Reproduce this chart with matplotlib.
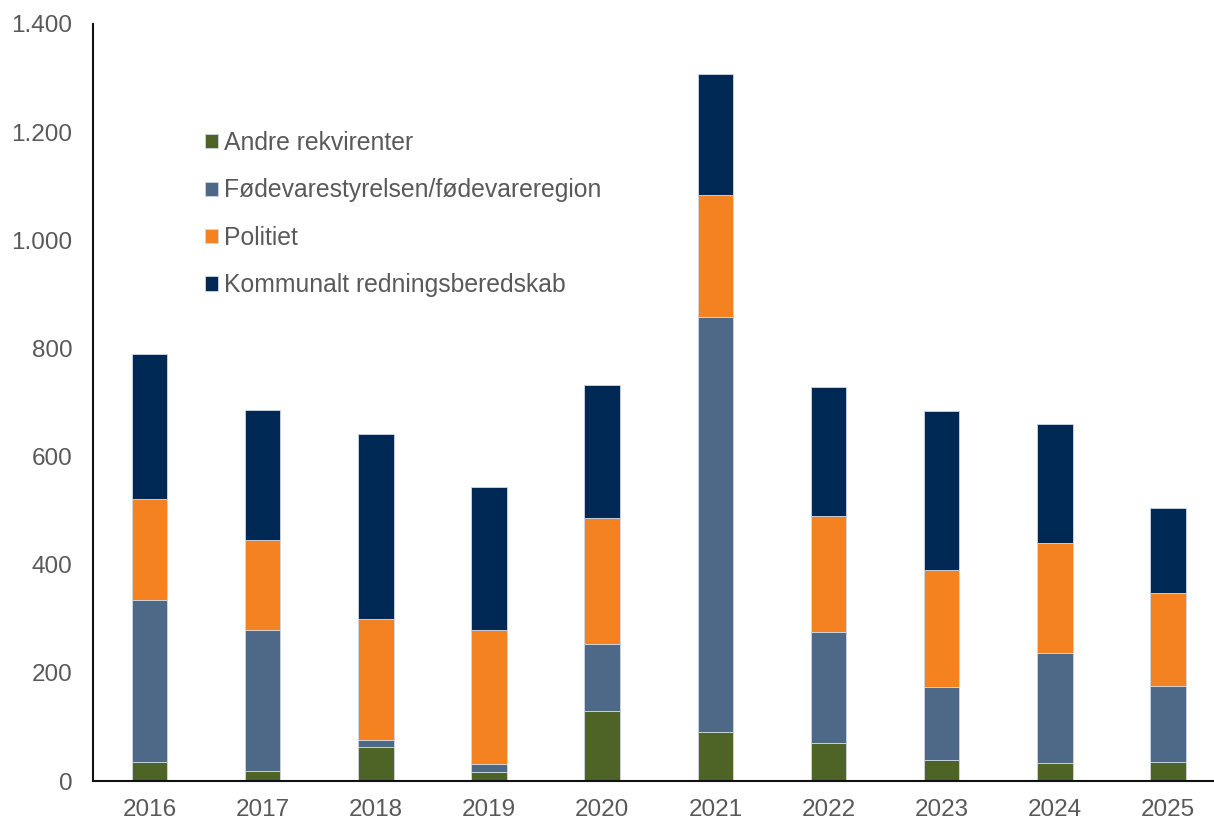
import numpy as np
import matplotlib
matplotlib.use('Agg')
import matplotlib.pyplot as plt
from matplotlib.ticker import FuncFormatter

years = ['2016', '2017', '2018', '2019', '2020', '2021', '2022', '2023', '2024', '2025']
andre = [36, 19, 62, 16, 130, 91, 71, 39, 33, 36]
foedevare = [299, 261, 13, 16, 124, 768, 205, 134, 204, 140]
politiet = [186, 166, 225, 248, 233, 225, 215, 218, 203, 172]
kommunalt = [268, 241, 341, 264, 245, 224, 238, 293, 221, 156]

series = [
    ('Andre rekvirenter', andre, '#4E6426'),
    ('Fødevarestyrelsen/fødevareregion', foedevare, '#4E6888'),
    ('Politiet', politiet, '#F58220'),
    ('Kommunalt redningsberedskab', kommunalt, '#002855'),
]

plt.rcParams['font.family'] = ['Liberation Sans', 'DejaVu Sans']
txt = '#595959'

fig = plt.figure(figsize=(12.14, 8.21), dpi=100)
ax = fig.add_axes([93/1214, 1 - 781/821, (1224.5 - 93)/1214, (781 - 24)/821])

x = np.arange(len(years))
bottom = np.zeros(len(years))
for name, vals, col in series:
    ax.bar(x, vals, width=0.314, bottom=bottom, color=col, label=name,
           edgecolor='#D0D8E4', linewidth=0.6)
    bottom += np.array(vals)

ax.set_xlim(-0.5, 9.5)
ax.set_ylim(0, 1400)
ax.set_yticks(range(0, 1401, 200))
ax.yaxis.set_major_formatter(FuncFormatter(lambda v, p: f"{v:,.0f}".replace(',', '.')))
ax.set_xticks(x)
ax.set_xticklabels(years)
ax.tick_params(axis='both', length=0, labelsize=17.5, colors=txt)
ax.tick_params(axis='y', pad=15)
ax.tick_params(axis='x', pad=13)

for s in ['top', 'right']:
    ax.spines[s].set_visible(False)
for s in ['left', 'bottom']:
    ax.spines[s].set_color('#111111')
    ax.spines[s].set_linewidth(1.5)

leg = ax.legend(loc='upper left', bbox_to_anchor=(205/1214, 1 - 131/821),
                bbox_transform=fig.transFigure, frameon=False, fontsize=17.8,
                handlelength=0.52, handleheight=0.52, handletextpad=0.25,
                labelspacing=0.95, borderaxespad=0, borderpad=0)
for t in leg.get_texts():
    t.set_color(txt)

fig.savefig('out.png', dpi=100)
